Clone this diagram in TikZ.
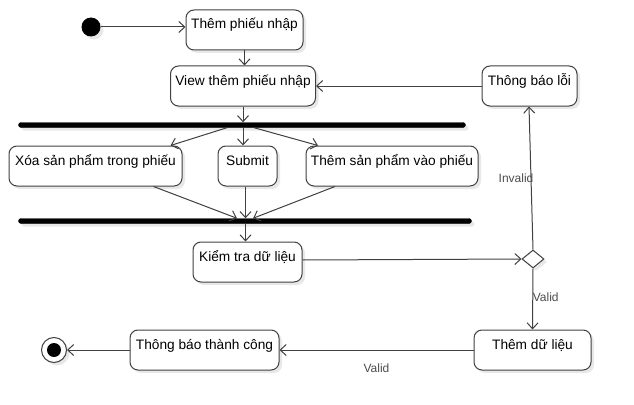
\documentclass[tikz,border=0pt]{standalone}
\usepackage{fontspec}
\setmainfont{Liberation Sans}
\usetikzlibrary{arrows.meta,shapes.geometric,shadows}
\tikzset{
  shd/.style={drop shadow={shadow xshift=3pt,shadow yshift=-3pt,fill=black!9,opacity=1}},
  box/.style={draw=black!75, line width=1pt, rounded corners=8pt, fill=white, shd,
    minimum height=40pt, inner xsep=0pt, inner ysep=0pt, text height=19pt, text depth=21pt,
    font=\fontsize{13.7}{16}\selectfont, text=black},
  bar/.style={fill=black, draw=black, rounded corners=2.5pt, minimum height=5pt, inner sep=0pt, shd},
  conn/.style={draw=black!75, line width=1pt, -{Straight Barb[length=6pt,width=11pt,line width=1pt]}},
  lbl/.style={font=\fontsize{12}{14}\selectfont, text=black!70, inner sep=0pt}
}
\begin{document}
\begin{tikzpicture}[x=1pt,y=-1pt]
\useasboundingbox (0,0) rectangle (634,404);
\node[circle, fill=black, minimum size=19pt, inner sep=0pt, shd] (start) at (91,27) {};
\node[box, minimum width=117pt] (n1) at (244.5,30) {Thêm phiếu nhập};
\node[box, minimum width=145pt] (n2) at (243,86) {View thêm phiếu nhập};
\node[box, minimum width=95pt] (err) at (529.5,86) {Thông báo lỗi};
\node[bar, minimum width=447pt] (bar1) at (242,125) {};
\node[box, minimum width=173pt] (xoa) at (95.5,166) {Xóa sản phẩm trong phiếu};
\node[box, minimum width=59pt] (sub) at (247.5,166) {Submit};
\node[box, minimum width=172pt] (them) at (392,166) {Thêm sản phẩm vào phiếu};
\node[bar, minimum width=453pt] (bar2) at (245,221) {};
\node[box, minimum width=109pt] (kt) at (247.5,262) {Kiểm tra dữ liệu};
\node[diamond, draw=black!75, line width=1pt, fill=white, minimum width=22pt, minimum height=18pt, inner sep=0pt, shd] (dec) at (533,259) {};
\node[box, minimum width=117pt] (tdl) at (532.5,350) {Thêm dữ liệu};
\node[box, minimum width=149pt] (tb) at (204.5,350) {Thông báo thành công};
\node[circle, draw=black!75, line width=1pt, fill=white, minimum size=25pt, inner sep=0pt, shd] (end) at (54,350) {};
\node[circle, fill=black, minimum size=14pt, inner sep=0pt] (endin) at (end.center) {};

\draw[conn] (start.east) -- (n1.west |- start.east);
\draw[conn] (n1.south) -- (n2.north -| n1.south);
\draw[conn] (err.west) -- (n2.east);
\draw[conn] (n2.south) -- (bar1.north -| n2.south);
\draw[conn] ([xshift=-15pt]bar1.south) -- ([xshift=75pt]xoa.north);
\draw[conn] (bar1.south -| n2.south) -- (sub.north -| n2.south);
\draw[conn] ([xshift=12pt]bar1.south) -- ([xshift=-74pt]them.north);
\draw[conn] ([xshift=58pt]xoa.south) -- ([xshift=-8pt]bar2.north);
\draw[conn] ([xshift=-2pt]sub.south) -- ([xshift=-2pt]bar2.north -| sub.south);
\draw[conn] ([xshift=-57pt]them.south) -- ([xshift=8pt]bar2.north);
\draw[conn] ([xshift=-2pt]bar2.south -| kt.north) -- ([xshift=-2pt]kt.north);
\draw[conn] ([yshift=2pt]kt.east) -- (dec.west);
\draw[conn] (dec.north) -- node[lbl, xshift=-15pt] {Invalid} ([xshift=-0.5pt]err.south);
\draw[conn] (dec.south) -- node[lbl, xshift=13pt, yshift=2pt] {Valid} (tdl.north);
\draw[conn] (tdl.west) -- node[lbl, yshift=-18pt] {Valid} (tb.east);
\draw[conn] (tb.west) -- (end.east);
\end{tikzpicture}
\end{document}
